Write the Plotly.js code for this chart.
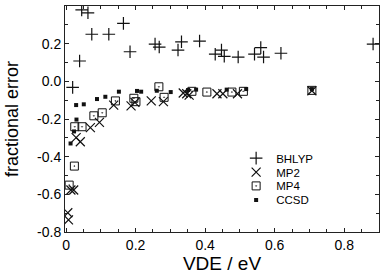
<!DOCTYPE html>
<html><head><meta charset="utf-8">
<script src="https://cdn.plot.ly/plotly-3.0.1.min.js"></script>
<style>html,body{margin:0;padding:0;background:#fff;}#chart{width:380px;height:276px;}</style>
</head><body><div id="chart"></div>
<script>
const bhlypX = [0.019,0.039,0.045,0.063,0.074,0.123,0.165,0.184,0.256,0.268,0.322,0.332,0.384,0.429,0.447,0.455,0.495,0.542,0.560,0.568,0.618,0.883];
const bhlypY = [-0.032,0.108,0.379,0.364,0.250,0.250,0.308,0.157,0.198,0.182,0.166,0.210,0.214,0.144,0.166,0.133,0.129,0.144,0.179,0.129,0.149,0.198];

const mp2X = [0.005,0.007,0.014,0.022,0.029,0.041,0.070,0.096,0.137,0.187,0.198,0.245,0.280,0.337,0.347,0.354,0.434,0.451,0.493,0.707];
const mp2Y = [-0.698,-0.736,-0.577,-0.577,-0.299,-0.321,-0.246,-0.218,-0.126,-0.130,-0.112,-0.104,-0.108,-0.062,-0.066,-0.073,-0.066,-0.066,-0.066,-0.050];

const mp4X = [0.009,0.024,0.025,0.046,0.080,0.104,0.142,0.195,0.201,0.267,0.282,0.362,0.405,0.477,0.510,0.707];
const mp4Y = [-0.551,-0.450,-0.241,-0.241,-0.183,-0.167,-0.104,-0.090,-0.108,-0.029,-0.085,-0.053,-0.057,-0.057,-0.053,-0.048];

const ccsdX = [0.013,0.023,0.030,0.029,0.051,0.089,0.113,0.152,0.204,0.216,0.261,0.301,0.351,0.374,0.462,0.518,0.707];
const ccsdY = [-0.330,-0.266,-0.203,-0.126,-0.122,-0.094,-0.082,-0.055,-0.051,-0.055,-0.050,-0.057,-0.046,-0.044,-0.044,-0.041,-0.041];

const xTickVals = [0,0.2,0.4,0.6,0.8];
const xTickText = ["0","0.2","0.4","0.6","0.8"];
const yTickVals = [-0.8,-0.6,-0.4,-0.2,0.0,0.2,0.4];
const yTickText = ["-0.8","-0.6","-0.4","-0.2","0.0","0.2","0.4"];

const FONT = 'Liberation Sans, Arial, sans-serif';
const ink = '#111';
const traces = [
  {x: bhlypX, y: bhlypY, name: 'BHLYP', mode: 'markers', type: 'scatter', legend: 'legend',
   marker: {symbol: 'cross-thin-open', size: 9, line: {width: 1.2, color: ink}, color: ink}},
  {x: mp2X, y: mp2Y, name: 'MP2', mode: 'markers', type: 'scatter', legend: 'legend2',
   marker: {symbol: 'x-thin-open', size: 9, line: {width: 1.2, color: ink}, color: ink}},
  {x: mp4X, y: mp4Y, name: 'MP4', mode: 'markers', type: 'scatter', legend: 'legend3',
   marker: {symbol: 'square-open-dot', size: 8, line: {width: 1, color: ink}, color: ink}},
  {x: ccsdX, y: ccsdY, name: 'CCSD', mode: 'markers', type: 'scatter', legend: 'legend4',
   marker: {symbol: 'square', size: 4, color: ink, line: {width: 0}}}
];

const axisCommon = {
  showgrid: false, zeroline: false, showline: true, linecolor: '#222', linewidth: 1,
  mirror: 'ticks', ticks: 'inside', ticklen: 4, tickcolor: '#222', tickwidth: 1,
  tickfont: {family: FONT, size: 14, color: '#000'}
};

function leg(yc) {
  return {x: 0.545, y: yc, xanchor: 'left', yanchor: 'middle', bgcolor: 'rgba(0,0,0,0)',
          font: {size: 11.5, family: FONT, color: '#000'}, itemwidth: 30, borderwidth: 0};
}

const layout = {
  width: 380, height: 276,
  margin: {l: 65, r: 1, t: 6, b: 44},
  paper_bgcolor: '#fff', plot_bgcolor: '#fff',
  font: {family: FONT, color: '#000'},
  showlegend: true,
  legend: leg(0.327),
  legend2: leg(0.265),
  legend3: leg(0.204),
  legend4: leg(0.142),
  xaxis: Object.assign({}, axisCommon, {
    range: [-0.003, 0.9], tickmode: 'array', tickvals: xTickVals, ticktext: xTickText,
    minor: {dtick: 0.05, ticks: 'inside', ticklen: 3, tickcolor: '#222', showgrid: false},
    title: {text: 'VDE / eV', font: {size: 19, family: FONT, color: '#000'}, standoff: 2}
  }),
  yaxis: Object.assign({}, axisCommon, {
    range: [-0.8, 0.4], tickmode: 'array', tickvals: yTickVals, ticktext: yTickText,
    minor: {dtick: 0.1, ticks: 'inside', ticklen: 3, tickcolor: '#222', showgrid: false},
    title: {text: 'fractional error', font: {size: 18, family: FONT, color: '#000'}, standoff: 13}
  })
};

Plotly.newPlot('chart', traces, layout, {staticPlot: true, displayModeBar: false});
</script></body></html>
